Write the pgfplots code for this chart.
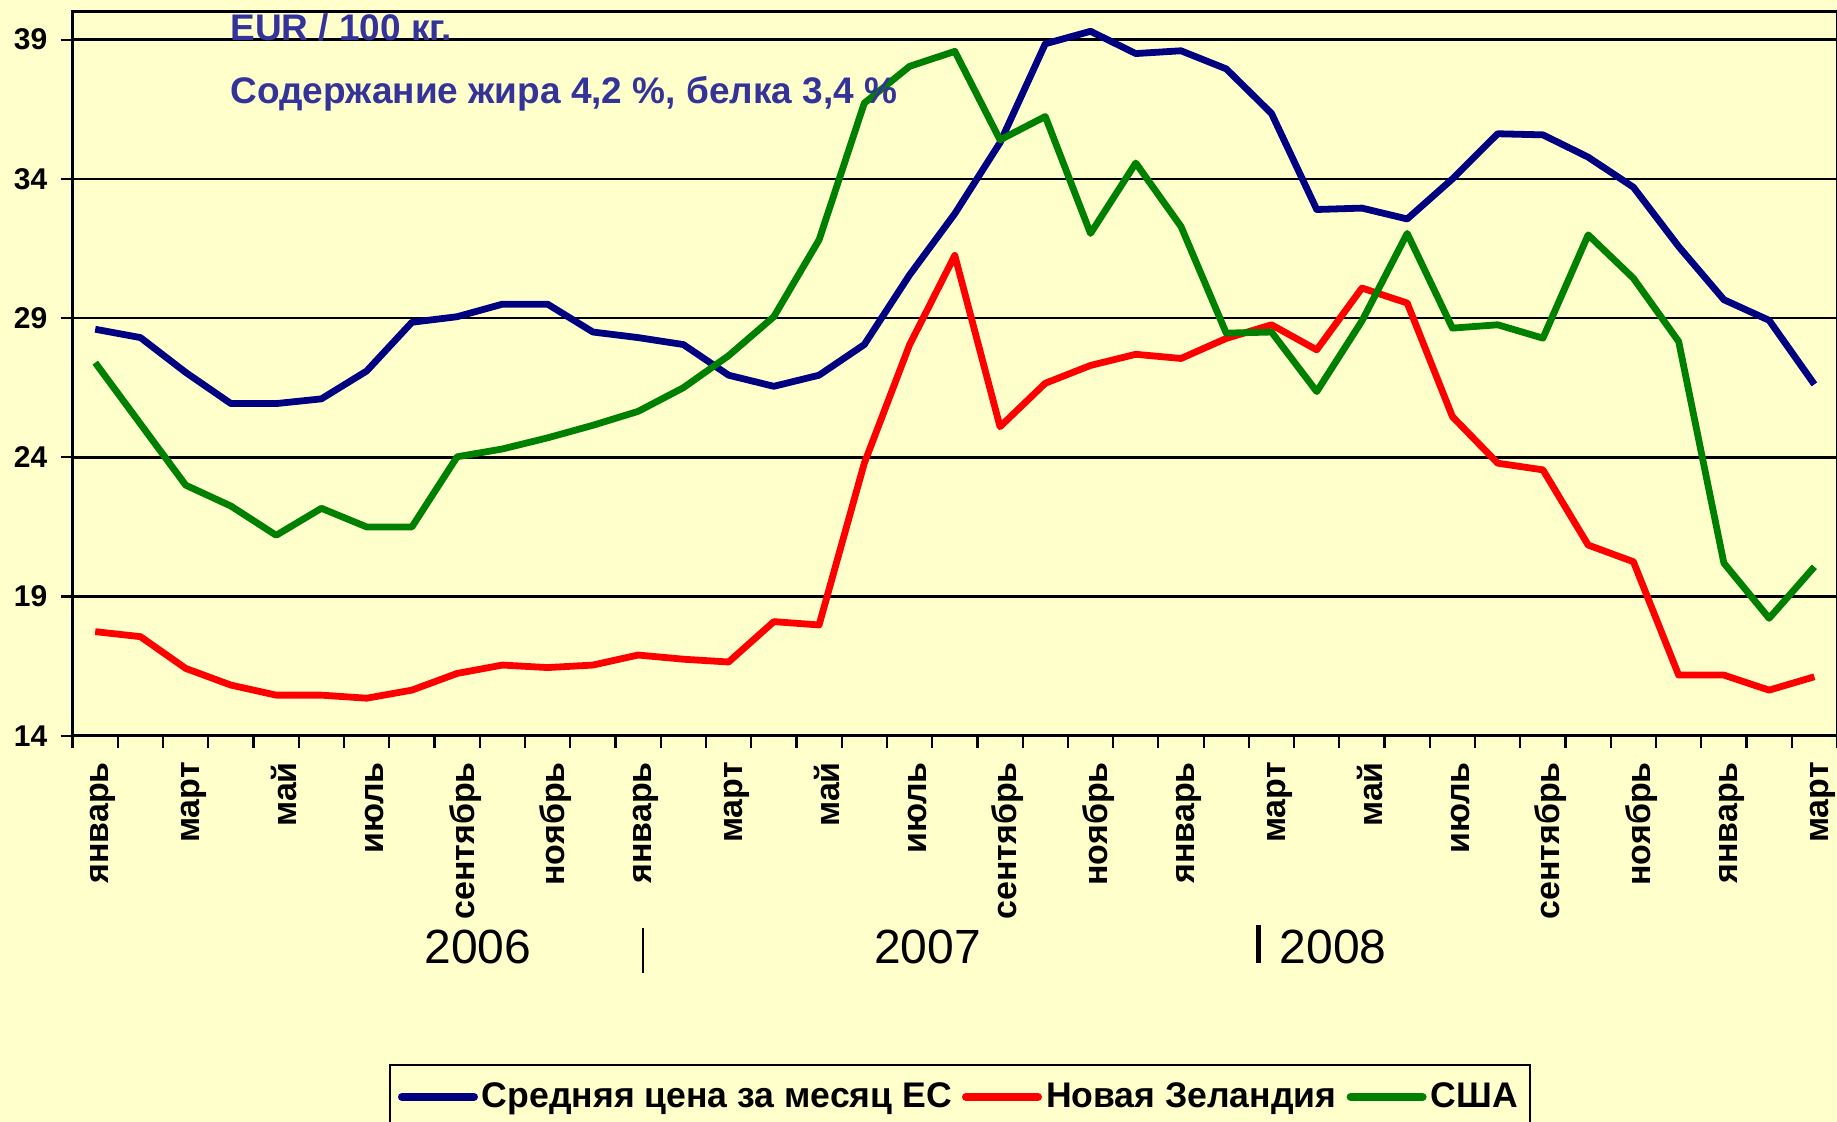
\documentclass[border=0pt]{standalone}
\usepackage{fontspec}
\setmainfont{Liberation Sans}
\usepackage{pgfplots}
\pgfplotsset{compat=1.18}
\definecolor{bgc}{HTML}{FFFFCC}
\definecolor{eublue}{HTML}{000080}
\definecolor{nzred}{HTML}{FF0000}
\definecolor{usgreen}{HTML}{008000}
\definecolor{ttl}{HTML}{333399}
\begin{document}
\begin{tikzpicture}
\fill[bgc] (-36.3pt,-193.1pt) rectangle (882.2pt,367.9pt);
\begin{axis}[
  at={(0pt,0pt)}, anchor=south west,
  scale only axis, width=882.2pt, height=362pt,
  xmin=-0.5, xmax=38.5, ymin=14, ymax=40,
  clip=false,
  axis line style={line width=1.3pt},
  ymajorgrids, grid style={black, line width=1.3pt},
  ytick={14,19,24,29,34,39},
  xtick={-0.5,0.5,...,38.5},
  xticklabels={},
  extra x ticks={0,2,...,38},
  extra x tick labels={январь,март,май,июль,сентябрь,ноябрь,январь,март,май,июль,сентябрь,ноябрь,январь,март,май,июль,сентябрь,ноябрь,январь,март},
  extra x tick style={tick style={draw=none}, xticklabel style={rotate=90, anchor=east, inner sep=0pt, xshift=-7pt, yshift=-4pt, font=\fontsize{17}{19}\selectfont\bfseries}},
  tick align=outside,
  tick pos=left,
  major tick length=6pt,
  tick style={black, line width=1.1pt},
  /pgf/number format/assume math mode=true,
  yticklabel style={anchor=east, inner sep=0pt, xshift=-6.5pt, font=\fontsize{15}{17}\selectfont\bfseries},
  legend style={at={(0.1793,-0.4533)}, anchor=north west, legend columns=3, draw=black, line width=1pt, fill=bgc,
    font=\fontsize{17.8}{20}\selectfont\bfseries, inner xsep=4pt, inner ysep=7pt,
    /tikz/every even column/.append style={column sep=3pt}},
  legend image code/.code={\draw[#1, line width=4pt, line cap=round] (0pt,0pt) -- (36pt,0pt);},
]
\addplot[eublue, line width=3.4pt, line join=round] coordinates {
(0,28.6) (1,28.3) (2,27.05) (3,25.93) (4,25.93) (5,26.1) (6,27.1) (7,28.85) (8,29.05) (9,29.5)
(10,29.5) (11,28.5) (12,28.3) (13,28.05) (14,26.95) (15,26.55) (16,26.95) (17,28.05) (18,30.55) (19,32.75)
(20,35.3) (21,38.85) (22,39.3) (23,38.5) (24,38.6) (25,37.95) (26,36.35) (27,32.9) (28,32.95) (29,32.56)
(30,34.0) (31,35.62) (32,35.58) (33,34.78) (34,33.7) (35,31.57) (36,29.66) (37,28.92) (38,26.62)};
\addlegendentry{Средняя цена за месяц ЕС}
\addplot[nzred, line width=3.4pt, line join=round] coordinates {
(0,17.74) (1,17.56) (2,16.42) (3,15.82) (4,15.46) (5,15.46) (6,15.35) (7,15.64) (8,16.24) (9,16.54)
(10,16.45) (11,16.54) (12,16.9) (13,16.75) (14,16.65) (15,18.1) (16,17.98) (17,23.79) (18,28.04) (19,31.25)
(20,25.1) (21,26.66) (22,27.3) (23,27.7) (24,27.55) (25,28.27) (26,28.76) (27,27.86) (28,30.08) (29,29.54)
(30,25.46) (31,23.79) (32,23.55) (33,20.85) (34,20.25) (35,16.18) (36,16.18) (37,15.64) (38,16.12)};
\addlegendentry{Новая Зеландия}
\addplot[usgreen, line width=3.4pt, line join=round] coordinates {
(0,27.4) (1,25.2) (2,23.0) (3,22.25) (4,21.2) (5,22.17) (6,21.5) (7,21.5) (8,24.02) (9,24.3)
(10,24.7) (11,25.15) (12,25.65) (13,26.5) (14,27.65) (15,29.05) (16,31.81) (17,36.72) (18,38.04) (19,38.58)
(20,35.4) (21,36.24) (22,32.04) (23,34.57) (24,32.29) (25,28.46) (26,28.5) (27,26.36) (28,28.9) (29,32.04)
(30,28.64) (31,28.76) (32,28.28) (33,31.99) (34,30.43) (35,28.16) (36,20.2) (37,18.22) (38,20.07)};
\addlegendentry{США}
\node[anchor=base west, inner sep=0pt, text=ttl, font=\fontsize{18.5}{20}\selectfont\bfseries] at (axis cs:2.98,38.98) {EUR / 100 кг.};
\node[anchor=base west, inner sep=0pt, text=ttl, font=\fontsize{18.5}{20}\selectfont\bfseries] at (axis cs:2.98,36.71) {Содержание жира 4,2 \%, белка 3,4 \%};
\node[font=\fontsize{24}{26}\selectfont] at (axis cs:8.46,6.4) {2006};
\node[font=\fontsize{24}{26}\selectfont] at (axis cs:18.4,6.4) {2007};
\node[font=\fontsize{24}{26}\selectfont] at (axis cs:27.36,6.4) {2008};
\draw[black, line width=1pt] (axis cs:12.11,7.08) -- (axis cs:12.11,5.47);
\draw[black, line width=2.5pt] (axis cs:25.72,7.19) -- (axis cs:25.72,5.83);
\end{axis}
\pgfresetboundingbox
\useasboundingbox (-36.3pt,-193.1pt) rectangle (882.2pt,367.9pt);
\end{tikzpicture}
\end{document}
